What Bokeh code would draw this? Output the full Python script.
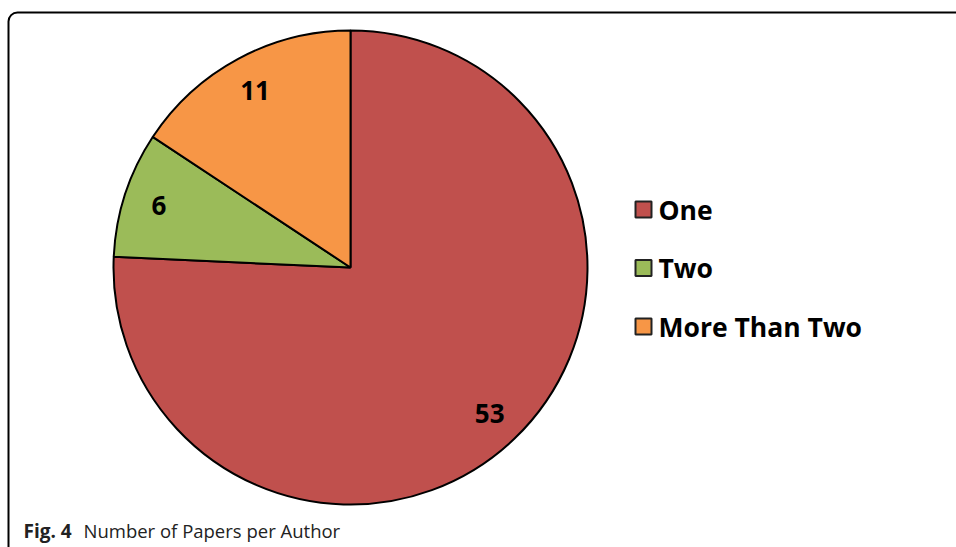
import math
from bokeh.plotting import figure
from bokeh.models import ColumnDataSource, BoxAnnotation, Range1d
from bokeh.core.properties import value
from bokeh.embed import file_html
from bokeh.resources import INLINE

categories = ["One", "Two", "More Than Two"]
counts = [53, 6, 11]
colors = ["#C0504D", "#9BBB59", "#F79646"]
caption_bold = "Fig. 4"
caption_text = "Number of Papers per Author"

W, H = 956, 547
p = figure(width=W, height=H, output_backend="svg", toolbar_location=None,
           x_range=Range1d(0, W), y_range=Range1d(0, H), min_border=0)
p.axis.visible = False
p.grid.visible = False
p.outline_line_color = None
p.background_fill_color = "white"
p.border_fill_color = "white"

# frame
p.add_layout(BoxAnnotation(left=8, right=W + 20, top=H - 12, bottom=-20,
                           fill_alpha=0, line_color="black", line_alpha=1.0,
                           line_width=2, border_radius=9))

cx, cy, R = 350, H - 267, 237
total = sum(counts)
starts, ends, lx, ly = [], [], [], []
acc = 0.0
for c in counts:
    a0 = math.pi / 2 - 2 * math.pi * acc / total
    a1 = math.pi / 2 - 2 * math.pi * (acc + c) / total
    starts.append(a0)
    ends.append(a1)
    mid = (a0 + a1) / 2
    lx.append(cx + 0.85 * R * math.cos(mid))
    ly.append(cy + 0.85 * R * math.sin(mid))
    acc += c

src = ColumnDataSource(dict(start=starts, end=ends, color=colors,
                            lx=lx, ly=ly, lab=[str(c) for c in counts],
                            cat=categories))
p.wedge(x=cx, y=cy, radius=R, start_angle="start", end_angle="end",
        direction="clock", fill_color="color", line_color="black",
        line_width=2, source=src)
p.text(x="lx", y="ly", text="lab", source=src, text_font=value("Open Sans"),
       text_font_style="bold", text_font_size="26px", text_align="center",
       text_baseline="middle", text_color="black")

# legend
leg_y = [H - 209 - 58.5 * i for i in range(len(categories))]
p.rect(x=[643] * len(categories), y=leg_y, width=16, height=16,
       fill_color=colors, line_color="#222222", line_width=2)
p.text(x=[658] * len(categories), y=leg_y, text=categories,
       text_font=value("Open Sans"), text_font_style="bold",
       text_font_size="26.5px", text_baseline="middle", text_color="black")

# caption
p.text(x=[23], y=[H - 530], text=[caption_bold], text_font=value("Open Sans"),
       text_font_style="bold", text_font_size="19px", text_baseline="middle",
       text_color="#222222")
p.text(x=[83], y=[H - 530], text=[caption_text], text_font=value("Open Sans"),
       text_font_size="18.5px", text_baseline="middle", text_color="#222222")

open("out.html", "w").write(file_html(p, INLINE))
